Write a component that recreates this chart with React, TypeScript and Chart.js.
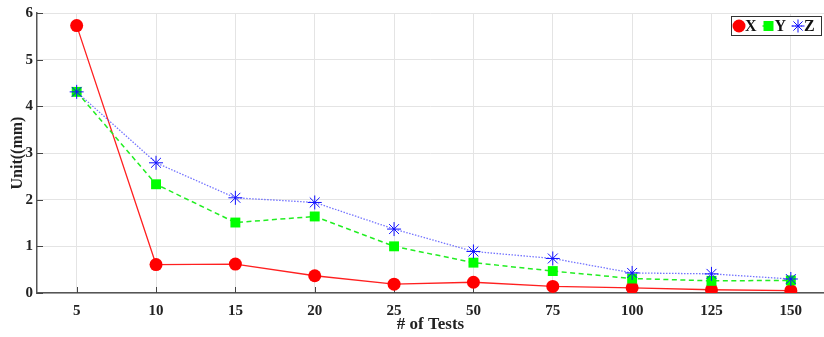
import React, { useEffect, useRef } from 'react';
import { Chart, registerables } from 'chart.js';

Chart.register(...registerables);

const categories = ['5', '10', '15', '20', '25', '50', '75', '100', '125', '150'];
const seriesX = [5.73, 0.61, 0.62, 0.37, 0.19, 0.23, 0.14, 0.11, 0.07, 0.05];
const seriesY = [4.31, 2.33, 1.51, 1.64, 1.0, 0.65, 0.47, 0.31, 0.26, 0.27];
const seriesZ = [4.31, 2.79, 2.04, 1.94, 1.37, 0.89, 0.74, 0.43, 0.41, 0.3];
const yTicks = [0, 1, 2, 3, 4, 5, 6];
const legendLabels = ['X', 'Y', 'Z'];

const FONT = "'Liberation Serif', 'Times New Roman', serif";

const toPoints = (arr: number[]) => arr.map((v, i) => ({ x: i, y: v }));

const innerTicks = {
  id: 'innerTicks',
  beforeDatasetsDraw(chart: any) {
    const { ctx, chartArea, scales } = chart;
    ctx.save();
    ctx.strokeStyle = '#444';
    ctx.lineWidth = 1;
    ctx.beginPath();
    scales.x.ticks.forEach((t: any) => {
      const px = Math.round(scales.x.getPixelForValue(t.value)) + 0.5;
      ctx.moveTo(px, chartArea.bottom);
      ctx.lineTo(px, chartArea.bottom - 6);
    });
    scales.y.ticks.forEach((t: any) => {
      const py = Math.round(scales.y.getPixelForValue(t.value)) + 0.5;
      ctx.moveTo(chartArea.left, py);
      ctx.lineTo(chartArea.left + 6, py);
    });
    ctx.stroke();
    ctx.restore();
  },
};

const boxLegend = {
  id: 'boxLegend',
  afterDraw(chart: any) {
    const { ctx, chartArea } = chart;
    const right = Math.min(chartArea.right, chart.width) - 2;
    const top = chartArea.top + 3;
    const w = 91;
    const h = 20;
    const left = right - w;
    const cy = top + h / 2;
    ctx.save();
    ctx.fillStyle = '#fff';
    ctx.fillRect(left, top, w, h);
    ctx.strokeStyle = '#333';
    ctx.lineWidth = 1;
    ctx.strokeRect(left + 0.5, top + 0.5, w - 1, h - 1);
    const ds = chart.data.datasets;
    const step = 29.5;
    legendLabels.forEach((lab, i) => {
      const d = ds[i];
      const mx = left + 8 + i * step;
      ctx.save();
      ctx.strokeStyle = d.borderColor;
      ctx.lineWidth = d.borderWidth;
      ctx.setLineDash(d.borderDash || []);
      ctx.beginPath();
      ctx.moveTo(mx - 6, cy);
      ctx.lineTo(mx + 4, cy);
      ctx.stroke();
      ctx.restore();
      ctx.fillStyle = d.pointBackgroundColor;
      ctx.strokeStyle = d.pointBorderColor;
      ctx.lineWidth = 1;
      if (d.pointStyle === 'circle') {
        ctx.beginPath();
        ctx.arc(mx, cy, 6.5, 0, Math.PI * 2);
        ctx.fill();
      } else if (d.pointStyle === 'rect') {
        ctx.fillRect(mx - 5, cy - 5, 10, 10);
      } else {
        ctx.beginPath();
        const r = 6.5;
        for (let k = 0; k < 4; k++) {
          const a = (k * Math.PI) / 4;
          ctx.moveTo(mx - r * Math.cos(a), cy - r * Math.sin(a));
          ctx.lineTo(mx + r * Math.cos(a), cy + r * Math.sin(a));
        }
        ctx.stroke();
      }
      ctx.fillStyle = '#111';
      ctx.font = `bold 16px ${FONT}`;
      ctx.textAlign = 'left';
      ctx.textBaseline = 'middle';
      ctx.fillText(lab, mx + 6, cy + 1);
    });
    ctx.restore();
  },
};

export default function App() {
  const ref = useRef<HTMLCanvasElement>(null);

  useEffect(() => {
    document.body.style.margin = '0';
    document.body.style.overflow = 'hidden';
    const canvas = ref.current;
    if (!canvas) return;
    const chart = new Chart(canvas, {
      type: 'line',
      data: {
        datasets: [
          {
            label: 'X',
            data: toPoints(seriesX),
            borderColor: '#ff2020',
            borderWidth: 1.3,
            pointStyle: 'circle',
            pointRadius: 6.5,
            pointBackgroundColor: '#ff0000',
            pointBorderColor: '#ff0000',
            pointBorderWidth: 0,
            order: 3,
          },
          {
            label: 'Y',
            data: toPoints(seriesY),
            borderColor: '#22ee22',
            borderWidth: 1.5,
            borderDash: [5, 3.5],
            pointStyle: 'rect',
            pointRadius: 7,
            pointBackgroundColor: '#00ff00',
            pointBorderColor: '#00ff00',
            pointBorderWidth: 0,
            order: 2,
          },
          {
            label: 'Z',
            data: toPoints(seriesZ),
            borderColor: 'rgba(70,70,255,0.75)',
            borderWidth: 1.3,
            borderDash: [1.5, 1.5],
            pointStyle: 'star',
            pointRadius: 7,
            pointBackgroundColor: '#0000ff',
            pointBorderColor: '#1010ff',
            pointBorderWidth: 1,
            order: 1,
          },
        ],
      },
      options: {
        animation: false,
        responsive: false,
        layout: { autoPadding: false, padding: { top: 12, left: 0, right: 0, bottom: 0 } },
        plugins: {
          legend: { display: false },
          tooltip: { enabled: false },
        },
        scales: {
          x: {
            type: 'linear',
            min: -0.5,
            max: 9.418,
            afterBuildTicks: (axis: any) => {
              axis.ticks = categories.map((_, i) => ({ value: i }));
            },
            afterFit: (axis: any) => {
              axis.height = 44;
              axis.paddingLeft = 0;
              axis.paddingRight = 0;
            },
            grid: { color: '#e4e4e4', lineWidth: 1, drawTicks: false },
            border: { display: true, color: '#555', width: 1.5 },
            ticks: {
              color: '#222',
              padding: 9,
              maxRotation: 0,
              autoSkip: false,
              font: { family: FONT, size: 15, weight: 'bold' },
              callback: (v: any) => categories[v],
            },
            title: {
              display: true,
              text: '# of Tests',
              color: '#222',
              padding: { top: 0, bottom: 2 },
              font: { family: FONT, size: 17, weight: 'bold' },
            },
          },
          y: {
            min: 0,
            max: 6,
            afterBuildTicks: (axis: any) => {
              axis.ticks = yTicks.map((v) => ({ value: v }));
            },
            afterFit: (axis: any) => {
              axis.width = 37;
            },
            grid: { color: '#e4e4e4', lineWidth: 1, drawTicks: false },
            border: { display: true, color: '#555', width: 1.5 },
            ticks: {
              color: '#222',
              padding: 4,
              font: { family: FONT, size: 15, weight: 'bold' },
            },
            title: {
              display: true,
              text: 'Unit((mm)',
              color: '#222',
              padding: { top: 8, bottom: 0 },
              font: { family: FONT, size: 16, weight: 'bold' },
            },
          },
        },
      },
      plugins: [innerTicks, boxLegend],
    });
    return () => chart.destroy();
  }, []);

  return (
    <div style={{ width: 824, height: 337 }}>
      <canvas ref={ref} width={824} height={337} style={{ display: 'block' }} />
    </div>
  );
}
